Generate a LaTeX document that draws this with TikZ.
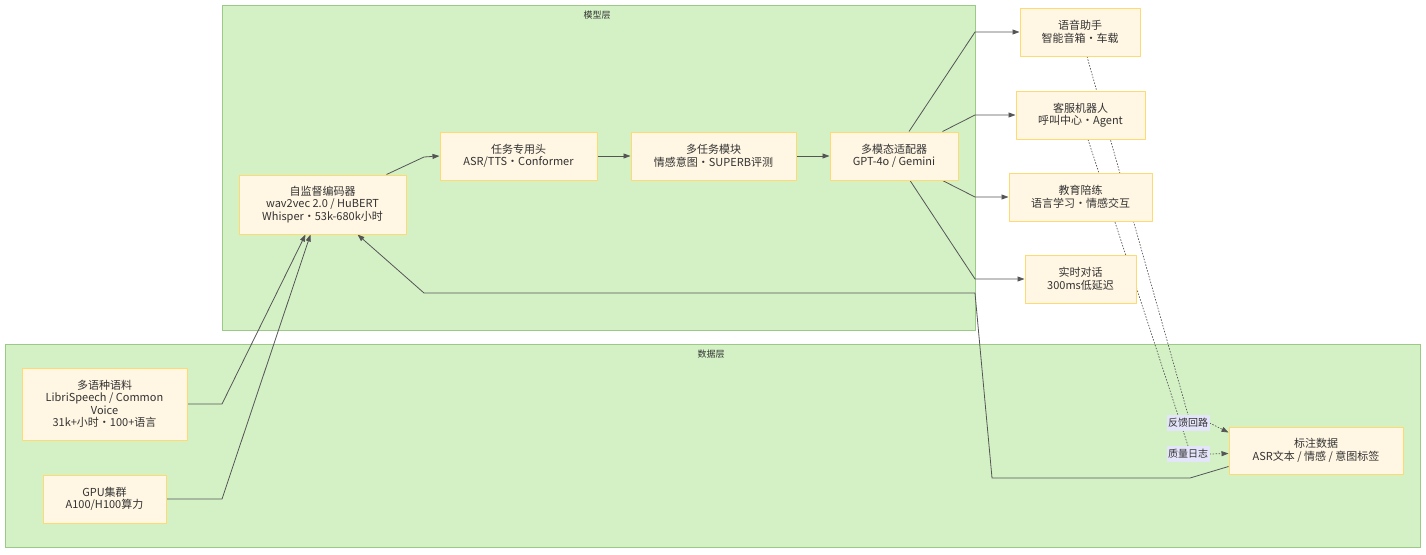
\documentclass[tikz,border=0pt]{standalone}
\usepackage{fontspec}
\setmainfont{Noto Sans CJK SC}
\usepackage{xcolor}
\usetikzlibrary{arrows.meta,backgrounds,positioning}
\pgfdeclarelayer{edges}
\pgfsetlayers{background,edges,main}
\definecolor{spLayerFill}{HTML}{D4F1C6}
\definecolor{spLayerLine}{HTML}{9CC987}
\definecolor{spBoxFill}{HTML}{FFF6E3}
\definecolor{spBoxLine}{HTML}{FFDA72}
\definecolor{spInk}{HTML}{333333}
\definecolor{spEdge}{HTML}{555555}
\definecolor{spTag}{HTML}{E4E4FA}
\tikzset{
  sp diagram/.style={text=spInk, line cap=round, line join=round},
  sp layer/.style={draw=spLayerLine, fill=spLayerFill, line width=1pt},
  sp title/.style={font=\fontsize{9}{11}\selectfont, text=spInk},
  sp box/.style={draw=spBoxLine, fill=spBoxFill, line width=1pt,
    align=center, inner sep=2pt, minimum height=48pt,
    font=\fontsize{11}{12.5}\selectfont},
  sp arrow/.style={-{Triangle[length=7pt,width=5pt]}, draw=spEdge, line width=0.8pt},
  sp feedback/.style={sp arrow, dash pattern=on 1.5pt off 1.5pt, line width=0.7pt},
  sp tag/.style={fill=spTag, text=spInk, inner sep=1.5pt, minimum height=16pt,
    font=\fontsize{10}{12}\selectfont}
}
\begin{document}
\begin{tikzpicture}[sp diagram, x=1pt, y=-1pt]
\useasboundingbox (0,0) rectangle (1426,554);
% layers
\begin{pgfonlayer}{background}
\draw[sp layer] (222,5) rectangle (975,330);
\draw[sp layer] (5,344) rectangle (1420,547);
\end{pgfonlayer}
\node[sp title] (modeltitle) at (597,15) {模型层};
\node[sp title] (datatitle) at (711,354) {数据层};
% model layer
\node[sp box,minimum width=167pt,minimum height=59pt] (encoder) at (322.5,204.5) {自监督编码器\\wav2vec 2.0 / HuBERT\\Whisper・53k-680k小时};
\node[sp box,minimum width=157pt] (taskhead) at (518.5,156) {任务专用头\\ASR/TTS・Conformer};
\node[sp box,minimum width=165pt] (multitask) at (713.5,156) {多任务模块\\情感意图・SUPERB评测};
\node[sp box,minimum width=128pt] (adapter) at (894,156) {多模态适配器\\GPT-4o / Gemini};
% applications
\node[sp box,minimum width=120pt] (assistant) at (1080,32) {语音助手\\智能音箱・车载};
\node[sp box,minimum width=129pt] (service) at (1080.5,115) {客服机器人\\呼叫中心・Agent};
\node[sp box,minimum width=143pt] (tutor) at (1080.5,197) {教育陪练\\语言学习・情感交互};
\node[sp box,minimum width=111pt] (realtime) at (1080.5,279) {实时对话\\300ms低延迟};
% data layer
\node[sp box,minimum width=165pt,minimum height=72pt] (corpus) at (104.5,404) {多语种语料\\LibriSpeech / Common\\Voice\\31k+小时・100+语言};
\node[sp box,minimum width=123pt] (gpu) at (104.5,499) {GPU集群\\A100/H100算力};
\node[sp box,minimum width=174pt,minimum height=47pt] (labels) at (1316,450.5) {标注数据\\ASR文本 / 情感 / 意图标签};
\node[sp tag] (feedback) at (1188,423) {反馈回路};
\node[sp tag] (qualitylog) at (1188,454) {质量日志};
% connectors
\begin{pgfonlayer}{edges}
\draw[sp arrow] ([xshift=-20pt]encoder.north east) -- (424,157) -- (taskhead.west);
\draw[sp arrow] (taskhead) -- (multitask);
\draw[sp arrow] (multitask) -- (adapter);
\draw[sp arrow] ([xshift=15pt]adapter.north) -- (975,32) -- (assistant.west);
\draw[sp arrow] ([xshift=-16pt]adapter.north east) -- (975,115) -- (service.west);
\draw[sp arrow] ([xshift=-16pt]adapter.south east) -- (975,197) -- (tutor.west);
\draw[sp arrow] ([xshift=16pt]adapter.south) -- (975,279) -- (realtime.west);
\draw[sp arrow] (corpus.east) -- (222,404) -- ([xshift=-17pt]encoder.south);
\draw[sp arrow] (gpu.east) -- (222,499) -- ([xshift=-12pt]encoder.south);
\draw[sp arrow] ([yshift=8pt]labels.south west) -- (1190,478) -- (992,478) -- (975,293) -- (424,293) -- ([xshift=35pt]encoder.south);
\draw[sp feedback,-] ([xshift=7pt]assistant.south) -- (feedback.north);
\draw[sp feedback] (feedback.east) -- ([yshift=18pt]labels.west);
\draw[sp feedback,-] ([xshift=7.5pt]service.south) -- (qualitylog.north);
\draw[sp feedback] (qualitylog.east) -- ([yshift=-3pt]labels.west);
\end{pgfonlayer}
\end{tikzpicture}
\end{document}
